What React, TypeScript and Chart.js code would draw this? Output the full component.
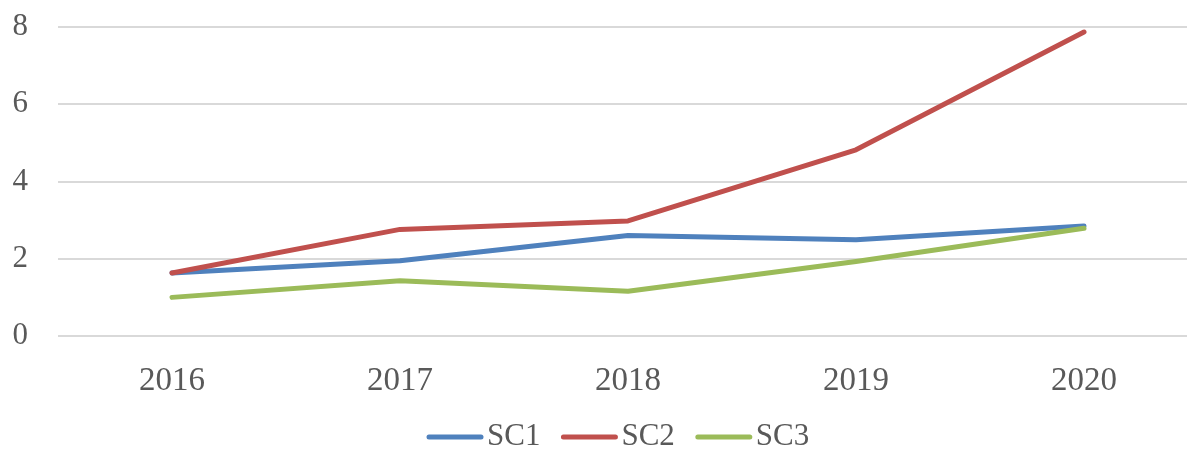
import React, { useEffect, useRef } from "react";
import { Chart, registerables } from "chart.js";

Chart.register(...registerables);

const categories = ["2016", "2017", "2018", "2019", "2020"];
const sc1 = [1.63, 1.95, 2.6, 2.49, 2.85];
const sc2 = [1.63, 2.76, 2.98, 4.82, 7.87];
const sc3 = [1.0, 1.43, 1.16, 1.93, 2.79];
const seriesNames = ["SC1", "SC2", "SC3"];
const seriesColors = ["#4f81bd", "#c0504d", "#9bbb59"];
const yTicks = [0, 2, 4, 6, 8];

const FONT = "'Liberation Serif', serif";
const TEXT = "#595959";

const legendPlugin = {
  id: "customLegend",
  afterDraw(chart: any) {
    const ctx = chart.ctx;
    ctx.save();
    ctx.font = `31px ${FONT}`;
    ctx.textBaseline = "middle";
    ctx.fillStyle = TEXT;
    const lineW = 56;
    const gap = 4;
    const itemGap = 21;
    const items = chart.data.datasets.map((d: any) => ({
      label: d.label,
      color: d.borderColor,
      w: lineW + gap + ctx.measureText(d.label).width,
    }));
    let x = 427;
    const y = 437;
    items.forEach((it: any) => {
      ctx.strokeStyle = it.color;
      ctx.lineWidth = 5;
      ctx.lineCap = "round";
      ctx.beginPath();
      ctx.moveTo(x + 2, y);
      ctx.lineTo(x + lineW - 2, y);
      ctx.stroke();
      ctx.fillText(it.label, x + lineW + gap, y);
      x += it.w + itemGap;
    });
    ctx.restore();
  },
};

export default function App() {
  const ref = useRef<HTMLCanvasElement>(null);
  useEffect(() => {
    document.body.style.margin = "0";
    document.body.style.overflow = "hidden";
    const chart = new Chart(ref.current!, {
      type: "line",
      data: {
        labels: categories,
        datasets: [sc1, sc2, sc3].map((d, i) => ({
          label: seriesNames[i],
          data: d,
          order: 3 - i,
          borderColor: seriesColors[i],
          backgroundColor: seriesColors[i],
          borderWidth: 5,
          pointRadius: 0,
          borderCapStyle: "round",
          borderJoinStyle: "round",
          tension: 0,
        })),
      },
      options: {
        animation: false,
        responsive: false,
        layout: { padding: { top: 27, right: 2, left: 0, bottom: 0 } },
        plugins: { legend: { display: false }, tooltip: { enabled: false } },
        scales: {
          x: {
            offset: true,
            grid: { display: false, drawTicks: false },
            border: { display: false },
            ticks: { color: TEXT, font: { family: FONT, size: 33 }, padding: 26, maxRotation: 0 },
            afterFit(s: any) { s.height = 113; s.paddingLeft = 0; s.paddingRight = 0; },
          },
          y: {
            min: 0,
            max: 8,
            afterBuildTicks(s: any) { s.ticks = yTicks.map((v) => ({ value: v })); },
            grid: { color: "#d9d9d9", lineWidth: 2, drawTicks: false },
            border: { display: false },
            ticks: { color: TEXT, font: { family: FONT, size: 31 }, padding: 30 },
            afterFit(s: any) { s.width = 58; s.paddingTop = 0; s.paddingBottom = 0; },
          },
        },
      },
      plugins: [legendPlugin],
    });
    return () => chart.destroy();
  }, []);
  return (
    <div style={{ position: "relative", width: 1187, height: 449, overflow: "hidden" }}>
      <canvas ref={ref} width={1200} height={449} style={{ position: "absolute", left: 0, top: 0 }} />
    </div>
  );
}
